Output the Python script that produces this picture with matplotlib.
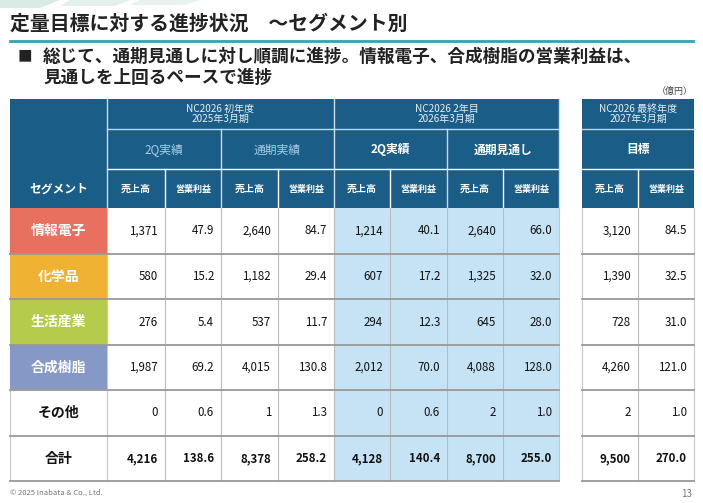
import matplotlib
matplotlib.use('Agg')
import matplotlib.pyplot as plt
from matplotlib.patches import Rectangle, Polygon

plt.rcParams['font.family'] = ['Noto Sans CJK JP', 'DejaVu Sans']

# table data (億円)
segments = ['情報電子', '化学品', '生活産業', '合成樹脂', 'その他', '合計']
seg_colors = ['#E8705F', '#F0B232', '#B5CB4C', '#8598C6', 'white', 'white']
sales_2q_fy25 = [1371, 580, 276, 1987, 0, 4216]
op_2q_fy25 = [47.9, 15.2, 5.4, 69.2, 0.6, 138.6]
sales_fy25 = [2640, 1182, 537, 4015, 1, 8378]
op_fy25 = [84.7, 29.4, 11.7, 130.8, 1.3, 258.2]
sales_2q_fy26 = [1214, 607, 294, 2012, 0, 4128]
op_2q_fy26 = [40.1, 17.2, 12.3, 70.0, 0.6, 140.4]
sales_fc_fy26 = [2640, 1325, 645, 4088, 2, 8700]
op_fc_fy26 = [66.0, 32.0, 28.0, 128.0, 1.0, 255.0]
sales_target = [3120, 1390, 728, 4260, 2, 9500]
op_target = [84.5, 32.5, 31.0, 121.0, 1.0, 270.0]

columns = [sales_2q_fy25, op_2q_fy25, sales_fy25, op_fy25,
           sales_2q_fy26, op_2q_fy26, sales_fc_fy26, op_fc_fy26,
           sales_target, op_target]
is_sales = [True, False] * 5

groups = ['NC2026 初年度\n2025年3月期', 'NC2026 2年目\n2026年3月期', 'NC2026 最終年度\n2027年3月期']
subgroups = ['2Q実績', '通期実績', '2Q実績', '通期見通し', '目標']
col_heads = ['売上高', '営業利益'] * 5

# layout (pixels)
DARK = '#1A5E88'
LIGHT = '#C6E3F5'
seg_x = (10, 107)
col_x = [107, 165, 221, 278, 334, 390, 447, 503, 559, 582, 638, 694]
col_idx = [(0, 1), (1, 2), (2, 3), (3, 4), (4, 5), (5, 6), (6, 7), (7, 8), (9, 10), (10, 11)]
head_y = [99, 129, 169, 208]
row_y = [208, 254, 299, 345, 390, 436, 481]

fig = plt.figure(figsize=(7.03, 5.03), dpi=100)
ax = fig.add_axes([0, 0, 1, 1])
ax.set_xlim(0, 703)
ax.set_ylim(503, 0)
ax.axis('off')

# faint decoration top-left
for pts, c in [([(0, 0), (60, 0), (40, 8), (0, 8)], '#d9ece3'),
               ([(70, 0), (130, 0), (115, 6), (60, 6)], '#e3f1ea'),
               ([(140, 0), (200, 0), (185, 5), (130, 5)], '#e8f3ee')]:
    ax.add_patch(Polygon(pts, closed=True, color=c, lw=0))

# title
ax.text(10, 23, '定量目標に対する進捗状況　～セグメント別', fontsize=14.3,
        fontweight='bold', color='#222222', va='center', ha='left')
ax.plot([10, 693], [41, 41], color='#2FA5B3', lw=2)
ax.text(18, 57, '■', fontsize=10.5, color='#222222', va='center', ha='left')
ax.text(43, 57, '総じて、通期見通しに対し順調に進捗。情報電子、合成樹脂の営業利益は、',
        fontsize=12.7, fontweight='bold', color='#222222', va='center', ha='left')
ax.text(43, 78, '見通しを上回るペースで進捗', fontsize=12.7, fontweight='bold',
        color='#222222', va='center', ha='left')
ax.text(693, 91, '（億円）', fontsize=6.5, color='#444444', va='center', ha='right')

# header background
ax.add_patch(Rectangle((seg_x[0], head_y[0]), col_x[8] - seg_x[0], head_y[3] - head_y[0],
                       facecolor=DARK, lw=0))
ax.add_patch(Rectangle((col_x[9], head_y[0]), col_x[11] - col_x[9], head_y[3] - head_y[0],
                       facecolor=DARK, lw=0))
ax.text(sum(seg_x) / 2, 189, 'セグメント', fontsize=8.5, fontweight='bold', color='white',
        ha='center', va='center')

# group headers
group_spans = [(col_x[0], col_x[4]), (col_x[4], col_x[8]), (col_x[9], col_x[11])]
for i, (name, (x0, x1)) in enumerate(zip(groups, group_spans)):
    ax.text((x0 + x1) / 2, 114, name, fontsize=7.2, color='#E6EEF5', ha='center',
            va='center', linespacing=1.1)
    ax.plot([x0, x1], [head_y[1], head_y[1]], color='#C9D6E0', lw=1)
sub_spans = [(col_x[0], col_x[2]), (col_x[2], col_x[4]), (col_x[4], col_x[6]),
             (col_x[6], col_x[8]), (col_x[9], col_x[11])]
for i, (name, (x0, x1)) in enumerate(zip(subgroups, sub_spans)):
    if i < 2:
        ax.text((x0 + x1) / 2, 150, name, fontsize=8.5, color='#A9CCE6',
                ha='center', va='center')
    else:
        ax.text((x0 + x1) / 2, 150, name, fontsize=8.5, color='white',
                fontweight='bold', ha='center', va='center')
    ax.plot([x0, x1], [head_y[2], head_y[2]], color='white', lw=1)
for j, (a, b) in enumerate(col_idx):
    x0, x1 = col_x[a], col_x[b]
    fs = 7.2 if is_sales[j] else 6.5
    ax.text((x0 + x1) / 2, 189, col_heads[j], fontsize=fs, color='white',
            fontweight='bold', ha='center', va='center')

# header vertical lines
for x in [col_x[0], col_x[4], col_x[8]]:
    ax.plot([x, x], [head_y[0], head_y[3]], color='#D0DCE6', lw=1)
for x in [col_x[2], col_x[6]]:
    ax.plot([x, x], [head_y[1], head_y[3]], color='#D0DCE6', lw=1)
for x in [col_x[1], col_x[3], col_x[5], col_x[7], col_x[10]]:
    ax.plot([x, x], [head_y[2], head_y[3]], color='white', lw=1)

# body
ax.add_patch(Rectangle((col_x[4], row_y[0]), col_x[8] - col_x[4], row_y[-1] - row_y[0],
                       facecolor=LIGHT, lw=0))
for r, seg in enumerate(segments):
    y0, y1 = row_y[r], row_y[r + 1]
    yc = (y0 + y1) / 2
    colored = seg_colors[r] != 'white'
    ax.add_patch(Rectangle((seg_x[0], y0), seg_x[1] - seg_x[0], y1 - y0,
                           facecolor=seg_colors[r], lw=0))
    ax.text(sum(seg_x) / 2, yc, seg, fontsize=10, fontweight='bold',
            color='white' if colored else '#111111', ha='center', va='center')
    total = r == len(segments) - 1
    for j, (a, b) in enumerate(col_idx):
        v = columns[j][r]
        label = f'{v:,.0f}' if is_sales[j] else f'{v:.1f}'
        ax.text(col_x[b] - 7, yc, label, fontsize=8.3, color='#111111',
                fontweight='bold' if total else 'normal', ha='right', va='center')

# body grid
for x in col_x[1:8] + [col_x[10]]:
    ax.plot([x, x], [row_y[0], row_y[-1]], color='#BBBBBB', lw=0.8)
for x in [col_x[0], col_x[8], col_x[9], col_x[11]]:
    ax.plot([x, x], [row_y[0], row_y[-1]], color='#C8C8C8', lw=0.8)
ax.plot([seg_x[0], seg_x[0]], [row_y[4], row_y[-1]], color='#C8C8C8', lw=0.8)
for y in row_y[1:]:
    ax.plot([seg_x[0], col_x[8]], [y, y], color='#999999', lw=1.3)
    ax.plot([col_x[9], col_x[11]], [y, y], color='#999999', lw=1.3)

# footer
ax.text(10, 493, '© 2025 Inabata & Co., Ltd.', fontsize=5.5, color='#777777',
        ha='left', va='center')
ax.text(692, 494, '13', fontsize=7, color='#777777', ha='right', va='center')

fig.savefig('out.png', dpi=100)
